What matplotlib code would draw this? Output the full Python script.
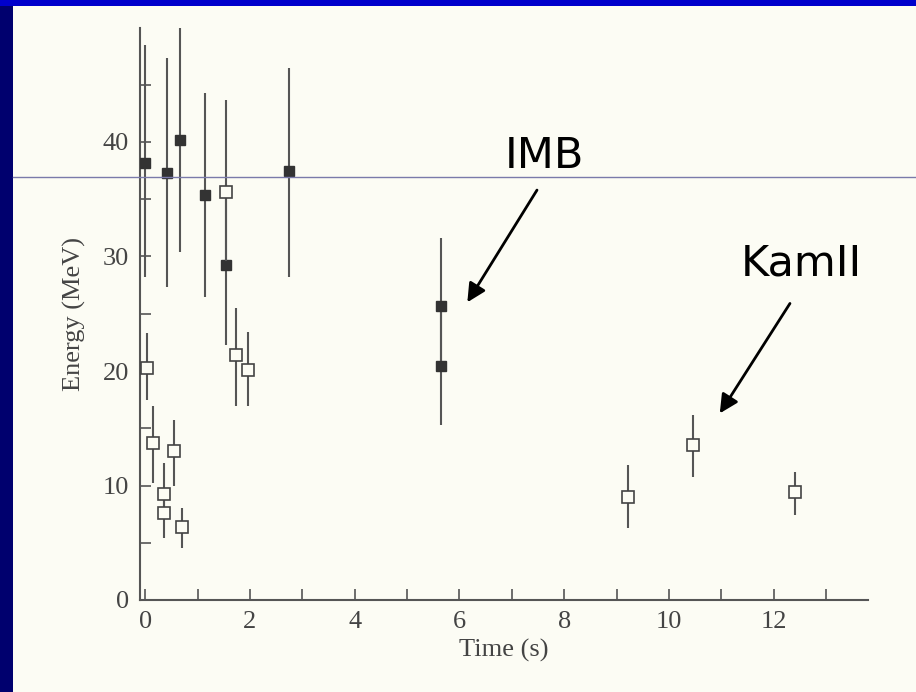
import matplotlib
matplotlib.use("Agg")
import numpy as np
import matplotlib.pyplot as plt
from matplotlib.patches import Rectangle
from matplotlib.lines import Line2D

# IMB events (filled squares)
imb_time = [0.0, 0.42, 0.67, 1.15, 1.55, 2.75, 5.65, 5.65]
imb_energy = [38.2, 37.3, 40.2, 35.4, 29.3, 37.5, 25.7, 20.4]
imb_low = [28.2, 27.3, 30.4, 26.5, 22.3, 28.2, 20.0, 15.3]
imb_high = [48.5, 47.3, 50.2, 44.3, 36.3, 46.5, 31.6, 25.7]

# Kamiokande II events (open squares)
kam_time = [0.03, 0.15, 0.36, 0.36, 0.55, 0.71, 1.55, 1.74, 1.97, 9.22, 10.46, 12.4]
kam_energy = [20.3, 13.7, 9.3, 7.6, 13.0, 6.4, 35.6, 21.4, 20.1, 9.0, 13.5, 9.4]
kam_low = [17.5, 10.2, 7.3, 5.4, 10.0, 4.5, 29.6, 16.9, 16.9, 6.3, 10.7, 7.4]
kam_high = [23.3, 16.9, 12.0, 9.3, 15.7, 8.0, 43.7, 25.5, 23.4, 11.8, 16.2, 11.2]

x_ticks = list(range(0, 14))
x_labels = ["0", "", "2", "", "4", "", "6", "", "8", "", "10", "", "12", ""]
y_ticks = [0, 10, 20, 30, 40]

BG = "#fcfcf4"
INK = "#444444"


def errs(vals, lo, hi):
    vals = np.array(vals)
    return [vals - np.array(lo), np.array(hi) - vals]


def main():
    fig = plt.figure(figsize=(9.16, 6.92), dpi=100, facecolor=BG)
    ax = fig.add_axes([140 / 916, 92 / 692, 728 / 916, 572.5 / 692])
    ax.set_facecolor(BG)

    ax.errorbar(imb_time, imb_energy, yerr=errs(imb_energy, imb_low, imb_high),
                fmt="s", ms=7, color="#333333", mfc="#333333", mec="#333333",
                ecolor="#555555", elinewidth=1.5, capsize=0, zorder=3)
    ax.errorbar(kam_time, kam_energy, yerr=errs(kam_energy, kam_low, kam_high),
                fmt="s", ms=8, color=INK, mfc=BG, mec=INK, mew=1.2,
                ecolor="#555555", elinewidth=1.5, capsize=0, zorder=4)

    ax.set_xlim(-0.1, 13.8)
    ax.set_ylim(0, 50)
    ax.spines["top"].set_visible(False)
    ax.spines["right"].set_visible(False)
    for s in ("left", "bottom"):
        ax.spines[s].set_color("#555555")
        ax.spines[s].set_linewidth(1.5)

    ax.set_xticks(x_ticks)
    ax.set_xticklabels(x_labels)
    ax.set_yticks(y_ticks)
    ax.set_yticks([5, 15, 25, 35, 45], minor=True)
    ax.tick_params(axis="both", which="both", direction="in", color="#555555",
                   width=1.2, labelcolor=INK)
    ax.tick_params(axis="both", which="major", length=8, pad=8)
    ax.tick_params(axis="y", which="minor", length=8)
    for lab in ax.get_xticklabels() + ax.get_yticklabels():
        lab.set_fontfamily("Liberation Serif")
        lab.set_fontsize(19)

    ax.set_xlabel("Time (s)", fontfamily="Liberation Serif", fontsize=19,
                  color=INK, labelpad=4)
    ax.set_ylabel("Energy (MeV)", fontfamily="Liberation Serif", fontsize=19,
                  color=INK, labelpad=12)

    arrow = dict(arrowstyle="-|>", color="black", lw=2, mutation_scale=28,
                 shrinkA=0, shrinkB=0)
    ax.annotate("", xy=(6.15, 26.0), xytext=(7.48, 35.8), arrowprops=arrow)
    ax.annotate("", xy=(10.97, 16.3), xytext=(12.31, 25.9), arrowprops=arrow)
    ax.text(7.63, 38.8, "IMB", fontsize=31, ha="center", va="center",
            family="DejaVu Sans", color="black")
    ax.text(12.52, 29.4, "KamII", fontsize=31, ha="center", va="center",
            family="DejaVu Sans", color="black")

    # slide frame
    fig.add_artist(Rectangle((0, 0), 13 / 916, 1, transform=fig.transFigure,
                             facecolor="#00006e", edgecolor="none", zorder=10))
    fig.add_artist(Rectangle((0, 1 - 6 / 692), 1, 6 / 692, transform=fig.transFigure,
                             facecolor="#0000cc", edgecolor="none", zorder=10))
    fig.add_artist(Line2D([13 / 916, 1], [1 - 177 / 692, 1 - 177 / 692],
                          transform=fig.transFigure, color="#7a7aaa", lw=1, zorder=10))

    fig.savefig("out.png", dpi=100, facecolor=BG)


if __name__ == "__main__":
    main()
